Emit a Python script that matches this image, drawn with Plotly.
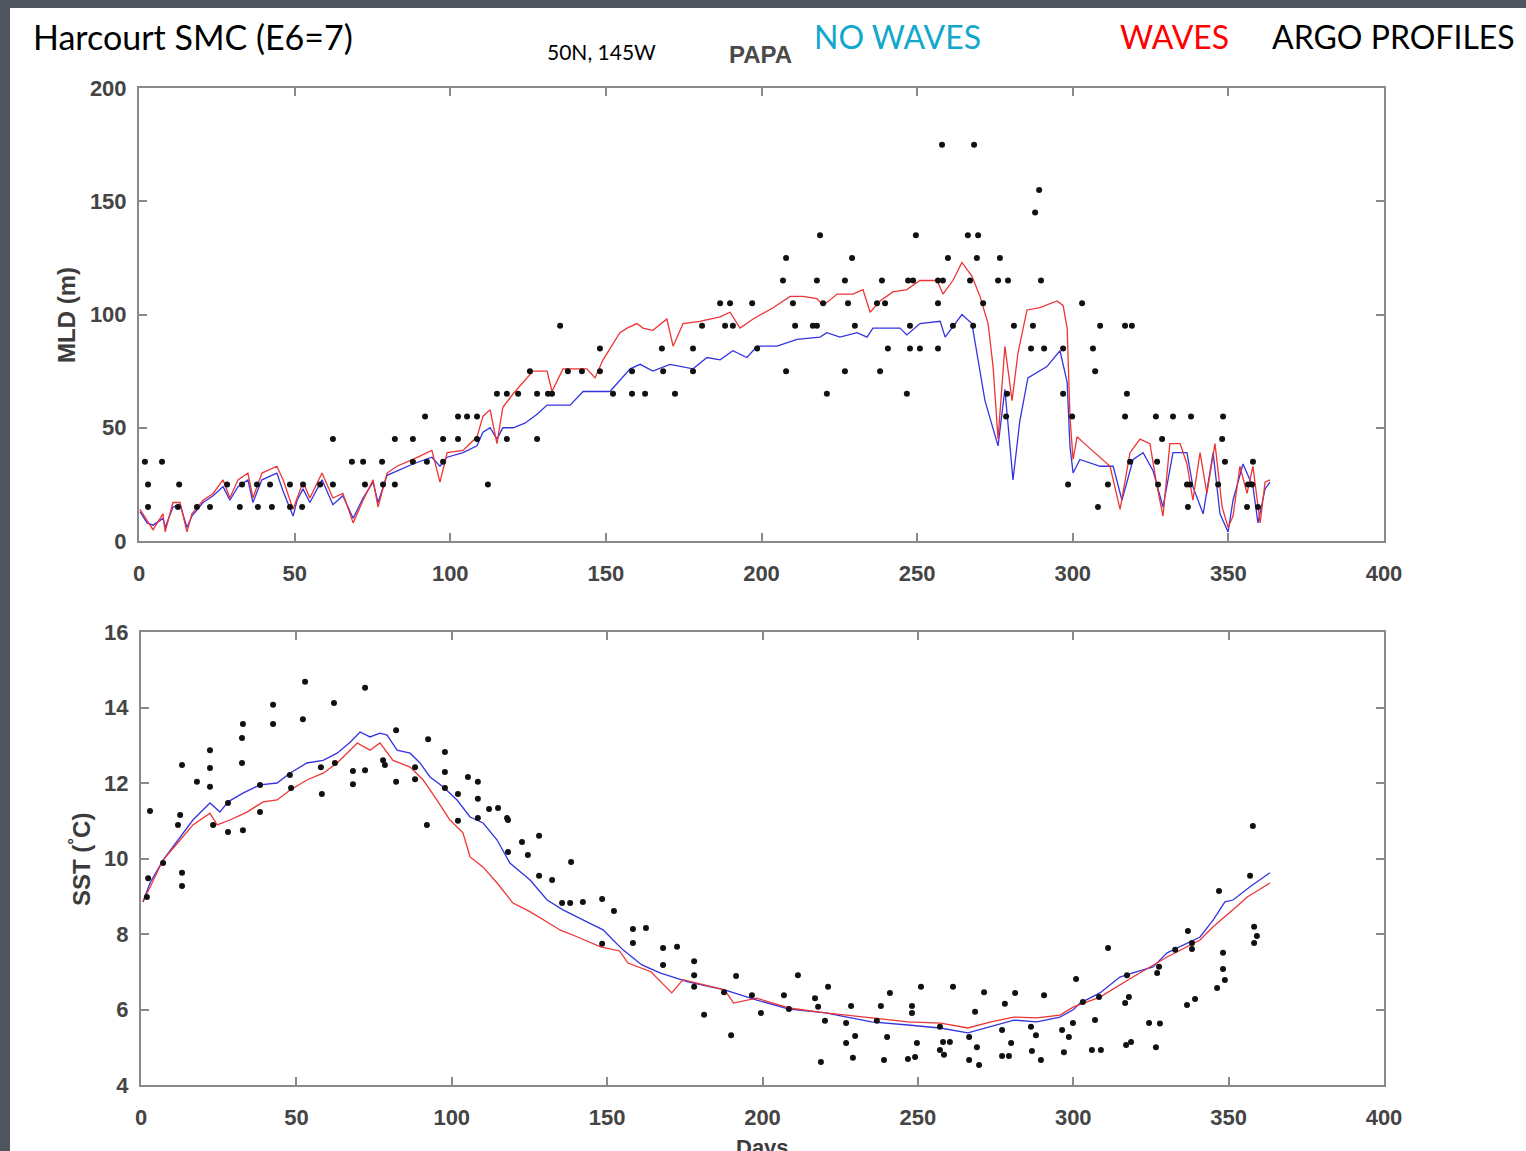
import plotly.graph_objects as go

W, H = 1526, 1151

# ---------------- MLD (top panel) ----------------
mld_red_day = [0.3, 2.6, 4.5, 7.7, 8.4, 10.9, 13.2, 15.4, 17, 20.6, 23.8, 27, 29.2, 31.8, 35, 36.6, 39.5, 44.3, 46.3,
               49.5, 50.8, 52.7, 54.9, 58.8, 62.3, 65.5, 68.8, 72, 75.2, 76.8, 79.7, 82.9, 88, 94.1, 96.7, 99, 104.1,
               108.6, 110.5, 112.8, 115, 116.9, 120.2, 126.6, 131.1, 132.7, 136.2, 143.9, 146.5, 149.1, 154.5, 156.8,
               160, 161.9, 165.1, 169.6, 171.6, 174.8, 180.2, 186.7, 189.9, 193.1, 197.3, 203.7, 209.2, 213.3, 217.8,
               219.8, 224.3, 229.4, 232.6, 234.9, 238.1, 242.2, 246.7, 250.9, 256.4, 258.3, 261.5, 264.4, 267.6, 270.2,
               272.8, 274.4, 276, 278.2, 280.5, 282.4, 285.3, 289.5, 294.9, 296.9, 298.2, 299.1, 300.1, 301.4, 304.6,
               308.8, 312, 315.2, 318.4, 321.6, 324.8, 327.1, 329, 331.2, 334.5, 336.7, 338.6, 340.9, 343.1, 345.7,
               348, 349.9, 351.5, 353.7, 356, 357.9, 360.2, 361.8, 363.4]
mld_red = [14, 9, 5, 12, 4, 17, 17, 4, 12, 18, 21, 27, 19, 27, 30, 19, 30, 33, 27,
           14, 19, 26, 19, 30, 19, 21, 8, 18, 27, 15, 30, 33, 36, 40, 26, 39, 40,
           46, 55, 58, 43, 59, 65, 75, 75, 66, 76, 76, 72, 80, 92, 94,
           96, 94, 93, 98, 86, 96, 97, 99, 101, 94, 98, 103, 108, 108, 107,
           104, 109, 109, 111, 101, 106, 110, 111, 115, 115, 109, 115, 123, 117, 108,
           96, 77, 45, 86, 62, 83, 102, 103, 106, 104, 94, 55, 36, 46, 42,
           37, 33, 14, 39, 45, 43, 24, 11, 43, 43, 34, 18, 39, 21, 43,
           15, 6, 11, 33, 21, 33, 8, 26, 27]

mld_blue_day = [0.3, 2.6, 4.5, 7.7, 8.4, 10.9, 13.2, 15.4, 17, 20.6, 23.8, 27, 29.2, 31.8, 35, 36.6, 39.5, 44.3, 46.3,
                49.5, 50.8, 52.7, 54.9, 58.8, 62.3, 65.5, 68.8, 72, 75.2, 76.8, 79.7, 82.9, 88, 94.1, 96.7, 99, 104.1,
                108.6, 110.5, 112.8, 115, 116.9, 120.2, 124, 127.9, 131.1, 138.5, 142.7, 151.3, 157.8, 161, 165.1,
                170.6, 178, 182.5, 186.7, 190.8, 195.3, 198.6, 205, 211.4, 218.8, 221, 225.2, 230.7, 233.9, 235.8,
                244.5, 246.7, 250.9, 257.4, 259, 264.4, 267.6, 270.2, 271.8, 276, 278.2, 280.8, 283, 285.6, 291.7,
                295.9, 298.2, 299.1, 300.1, 302.3, 308.8, 313, 315.8, 319.4, 322.6, 325.8, 329, 332.2, 336.7, 338.6,
                341.9, 345.1, 347.3, 349.9, 351.5, 354.7, 357.9, 359.5, 361.8, 363.4]
mld_blue = [13, 8, 7, 10, 6, 15, 16, 6, 11, 17, 20, 24, 18, 24, 27, 17, 27, 30, 22,
            11, 18, 23, 17, 27, 16, 20, 10, 19, 26, 17, 29, 31, 34, 37, 33, 37, 39,
            42, 48, 50, 45, 50, 50, 52, 56, 60, 60, 66, 66, 76, 78, 75,
            78, 76, 81, 80, 84, 81, 86, 86, 89, 90, 92, 90, 92, 90, 94,
            94, 91, 96, 97, 90, 100, 96, 74, 62, 42, 67, 27, 53, 72, 77,
            84, 70, 42, 30, 36, 33, 33, 18, 36, 39, 31, 15, 39, 39, 24,
            12, 39, 12, 4, 18, 34, 24, 8, 23, 26]

argo_mld_day = [1.9, 7.4, 2.9, 12.9, 2.9, 12.5, 18.6, 22.8, 28.3, 33.1, 37.9, 42.1, 48.5, 52.7, 58.2, 62.3,
                32.4, 38.2, 42.7, 48.5, 52.4, 62.3, 68.4, 72, 78.1, 72.6, 78.4, 82.2, 82.2, 88, 88, 92.5, 97.7,
                91.9, 97.7, 102.5, 102.5, 105.4, 108.6, 108.6, 112.1, 115, 118.2, 121.8, 127.9, 131.4, 118.2,
                127.9, 125.6, 135.3, 148.1, 137.8, 142.3, 148.1, 132.7, 152.3, 158.4, 162.6, 172.2, 158.4, 168.4,
                178, 168, 178, 180.9, 188.3, 190.8, 186.7, 189.9, 197, 198.6, 206.9, 217.8, 226.8, 238.7, 247.1,
                248.7, 256.7, 207.9, 229.1, 218.8, 249.6, 210.1, 219.8, 227.8, 237.1, 239.7, 256.7, 210.8, 216.5,
                217.8, 230, 247.7, 240.6, 247.7, 250.9, 256.7, 207.9, 226.8, 238.1, 221, 246.7,
                258, 268.3, 289.2, 287.9, 266.3, 269.6, 259.9, 269.2, 276.6, 258.3, 267, 276, 279.2, 289.8,
                271.2, 303, 261.5, 268, 281.1, 287.2, 308.8, 316.8, 319, 286.6, 290.8, 296.9, 306.5, 307.2,
                296.9, 317.4, 278.9, 278.6, 299.8, 316.8, 326.7, 332.2, 338, 348.3, 328.7, 348, 318.4, 327.1,
                348.9, 357.9, 298.5, 311.3, 327.4, 336.7, 337.7, 346.7, 356.3, 357.6, 308.1, 337, 359.5, 356]
argo_mld = [35, 35, 25, 25, 15, 15, 15, 15, 25, 25, 25, 25, 25, 25, 25, 25,
            15, 15, 15, 15, 15, 45, 35, 35, 35, 25, 25, 25, 45, 45, 35, 35, 35,
            55, 45, 45, 55, 55, 55, 45, 25, 65, 65, 65, 65, 65, 45,
            45, 75, 95, 85, 75, 75, 75, 65, 65, 65, 65, 65, 75, 75,
            75, 85, 85, 95, 95, 95, 105, 105, 105, 85, 115, 115, 115, 115, 115,
            115, 115, 125, 125, 135, 135, 105, 105, 105, 105, 105, 105, 95, 95,
            95, 95, 95, 85, 85, 85, 85, 75, 75, 75, 65, 65,
            175, 175, 155, 145, 135, 135, 125, 125, 125, 115, 115, 115, 115, 115,
            105, 105, 95, 95, 95, 95, 95, 95, 95, 85, 85, 85, 85, 75,
            65, 65, 65, 55, 55, 55, 55, 55, 55, 55, 45, 45, 35, 35,
            35, 35, 25, 25, 25, 25, 25, 25, 25, 25, 15, 15, 15, 15]

# ---------------- SST (bottom panel) ----------------
sst_blue_day = [0.6, 2.9, 7.1, 12.6, 16.7, 22.2, 25.4, 28, 32.8, 38.3, 43.8, 47.9, 53.4, 58.6, 63.1, 67.3, 70.5,
                73.7, 76.9, 79.2, 82.4, 86.6, 89.8, 93, 97.2, 101.7, 105.9, 110.1, 114.6, 118.7, 125.2, 130.7,
                135.8, 143.5, 148.7, 151.9, 155.1, 161.2, 167, 176, 187.8, 198.2, 208.5, 220.3, 235.1, 246.8,
                257.1, 266.1, 273.5, 280.9, 288.3, 295.7, 300.1, 302.2, 308.6, 315, 319.2, 325.7, 330.2, 336.6,
                340.8, 345, 348.8, 351.4, 356.9, 363.3]
sst_blue = [8.85, 9.35, 9.96, 10.57, 11.02, 11.47, 11.23, 11.5, 11.73, 11.95, 12.0, 12.26, 12.53, 12.6, 12.79, 13.08,
            13.35, 13.22, 13.32, 13.27, 12.87, 12.79, 12.53, 12.16, 11.9, 11.55, 11.1, 10.94, 10.49, 9.88, 9.43,
            8.9, 8.64, 8.32, 8.11, 7.84, 7.58, 7.18, 6.97, 6.73, 6.52, 6.25, 6.01, 5.91, 5.67, 5.59,
            5.51, 5.38, 5.54, 5.72, 5.67, 5.8, 6.0, 6.17, 6.44, 6.86, 6.97, 7.13, 7.5, 7.76,
            7.92, 8.37, 8.85, 8.9, 9.25, 9.62]

sst_red_day = [0.6, 7.1, 12.6, 16.7, 22.2, 24.5, 28.6, 34.1, 39.3, 43.8, 47.9, 53.4, 58.6, 63.1, 69.6, 73.7, 76.9,
               81.1, 86.6, 90.8, 95.2, 99.4, 103.6, 105.9, 110.1, 114.6, 119.7, 125, 130, 135, 140.5, 147.9, 154,
               156.7, 164.1, 170.8, 174.4, 187.8, 190.7, 198.1, 208.5, 220.3, 235.1, 246.9, 257.3, 266.1, 273.5,
               280.9, 288.3, 295.7, 300.1, 308.6, 319.2, 330.2, 340.8, 345, 351.4, 356, 363.3]
sst_red = [8.85, 9.96, 10.49, 10.89, 11.2, 10.89, 11.02, 11.23, 11.5, 11.55, 11.81, 12.08, 12.26, 12.53, 13.06, 12.87,
           13.06, 12.6, 12.42, 12.08, 11.55, 11.02, 10.68, 10.04, 9.77, 9.35, 8.82, 8.6, 8.35, 8.1, 7.92, 7.66, 7.55,
           7.23, 7.0, 6.44, 6.79, 6.52, 6.17, 6.3, 6.04, 5.91, 5.78, 5.67, 5.64, 5.51, 5.67,
           5.8, 5.78, 5.85, 6.07, 6.33, 6.86, 7.39, 7.84, 8.19, 8.64, 8.98, 9.35]

argo_sst_day = [2.9, 2.3, 1.9, 7.1, 12.6, 11.9, 13.2, 13.2, 13.2, 18, 22.2, 22.2, 22.2, 23.2, 28, 28, 32.5, 32.8,
                32.5, 32.8, 38.3, 38.3, 42.5, 42.5, 47.9, 48.3, 52.8, 52.1, 57.9, 58.2, 62.1, 62.4, 68.2, 68.2,
                72.1, 72.1, 77.9, 78.5, 82.1, 82.1, 88.2, 88.2, 92, 92.4, 97.8, 97.8, 97.8, 102, 102, 105.2, 108.4,
                108.4, 108.4, 112, 114.9, 117.8, 118.1, 118.1, 122.6, 124.5,
                128.1, 128.1, 132.3, 138.4, 135.5, 138.1, 142.2, 148.4, 152.2, 158.3, 162.5, 158.3, 148.4, 168,
                172.5,
                168, 178, 178, 178, 181.2, 191.5, 187.6, 189.9, 196.6, 199.5, 206.9, 208.5, 211.4, 216.9, 217.9,
                220.1, 221.1, 218.8, 226.9, 226.9, 228.5, 229.1, 229.8, 236.8, 238.1, 239.1, 240.1, 241, 246.8,
                248.1, 248.1, 249.1, 249.7, 251, 257.1, 257.1, 258.1, 258.4, 260.3, 261.3, 266.5, 266.5, 268.4,
                269, 269.7, 271.3, 277.1, 278, 277.1, 279.3, 280, 281.3, 286.4, 286.7, 288, 289.6, 290.6, 296.4,
                297, 298.6, 299.9,
                300.9, 303.1, 308.3, 307, 311.2, 317.3, 317.9, 316.7, 306, 308.9, 317, 318.6, 324.4, 326.6,
                327.9, 327.6, 327, 332.8, 336.9, 338.2, 338.2, 336.6, 339.2, 346.3, 348.8, 348.2, 348.2, 346.9,
                356.9, 357.8, 358.2, 359.1, 358.2]
argo_sst = [11.26, 9.48, 8.98, 9.88, 11.15, 10.89, 12.48, 9.62, 9.27, 12.03, 12.87, 12.4, 11.9, 10.89, 11.47, 10.7,
            13.19, 13.56, 12.53, 10.75, 11.95, 11.23, 14.07, 13.56, 12.21, 11.87, 14.68, 13.69, 12.42, 11.71,
            14.12, 12.53, 12.32, 11.97, 14.52, 12.34, 12.6, 12.48, 13.4, 12.03, 12.42, 12.1, 10.89, 13.16, 12.82,
            12.29, 11.87, 11.71, 11.0, 12.16, 12.03, 11.58, 11.07, 11.31, 11.34, 11.07, 11.02, 10.17, 10.44, 10.09,
            10.6, 9.54, 9.43, 9.91, 8.82, 8.82, 8.85, 8.93, 8.61, 8.13, 8.16, 7.76, 7.74, 7.63, 7.66,
            7.18, 7.28, 6.91, 6.6, 5.86, 6.89, 6.46, 5.32, 6.38, 5.91, 6.38, 6.01, 6.91, 6.3, 6.07,
            5.7, 6.6, 4.61, 5.64, 5.11, 6.09, 4.72, 5.3, 5.7, 6.09, 4.66, 5.27, 6.44, 4.69,
            5.91, 6.09, 4.74, 5.11, 6.6, 5.54, 4.93, 5.14, 4.8, 5.14, 6.6, 5.27, 4.66, 5.94,
            5.0, 4.53, 6.46, 5.46, 6.15, 4.77, 4.77, 5.11, 6.44, 5.54, 4.9, 5.32, 4.66, 6.38, 5.46,
            4.87, 5.27, 5.64,
            6.81, 6.2, 6.33, 5.72, 7.63, 6.91, 6.33, 6.17, 4.93, 4.93, 5.06, 5.14, 5.64, 5.0,
            5.63, 7.13, 6.97, 7.58, 8.08, 7.76, 7.6, 6.12, 6.28, 6.57, 6.78, 7.07, 7.5, 9.14,
            9.54, 10.86, 8.19, 7.95, 7.76]

x_ticks = [0, 50, 100, 150, 200, 250, 300, 350, 400]
mld_ticks = [0, 50, 100, 150, 200]
sst_ticks = [4, 6, 8, 10, 12, 14, 16]


def px(x):
    return x / W


def py(y):
    return 1 - y / H


RED = "rgb(238,52,52)"
BLUE = "rgb(52,52,225)"
MARK = dict(color="#111111", size=6, symbol="circle")

fig = go.Figure()
# top
fig.add_trace(go.Scatter(x=mld_blue_day, y=mld_blue, mode="lines", line=dict(color=BLUE, width=1.3),
                         xaxis="x", yaxis="y", showlegend=False))
fig.add_trace(go.Scatter(x=mld_red_day, y=mld_red, mode="lines", line=dict(color=RED, width=1.3),
                         xaxis="x", yaxis="y", showlegend=False))
fig.add_trace(go.Scatter(x=argo_mld_day, y=argo_mld, mode="markers", marker=MARK,
                         xaxis="x", yaxis="y", showlegend=False))
# bottom
fig.add_trace(go.Scatter(x=sst_blue_day, y=sst_blue, mode="lines", line=dict(color=BLUE, width=1.3),
                         xaxis="x2", yaxis="y2", showlegend=False))
fig.add_trace(go.Scatter(x=sst_red_day, y=sst_red, mode="lines", line=dict(color=RED, width=1.3),
                         xaxis="x2", yaxis="y2", showlegend=False))
fig.add_trace(go.Scatter(x=argo_sst_day, y=argo_sst, mode="markers", marker=MARK,
                         xaxis="x2", yaxis="y2", showlegend=False))

tickfont = dict(family="Liberation Sans", size=22, color="#444444", weight="bold")
ax_common = dict(showline=True, linecolor="#8a8a8a", linewidth=2, mirror="ticks", ticks="inside",
                 ticklen=8, tickcolor="#8a8a8a", tickwidth=1.5, showgrid=False, zeroline=False,
                 tickfont=tickfont, automargin=False)

fig.update_layout(
    template="none",
    width=W, height=H,
    autosize=False,
    margin=dict(l=0, r=0, t=0, b=0, pad=0, autoexpand=False),
    paper_bgcolor="#50545f",
    plot_bgcolor="white",
    showlegend=False,
    xaxis=dict(domain=[px(139), px(1384)], range=[0, 400], tickvals=x_ticks, anchor="y",
               ticklabelstandoff=12, **ax_common),
    yaxis=dict(domain=[py(541), py(88)], range=[0, 200], tickvals=mld_ticks, anchor="x",
               ticklabelstandoff=6, **ax_common),
    xaxis2=dict(domain=[px(141), px(1384)], range=[0, 400], tickvals=x_ticks, anchor="y2",
                ticklabelstandoff=12, **ax_common),
    yaxis2=dict(domain=[py(1085), py(632)], range=[4, 16], tickvals=sst_ticks, anchor="x2",
                ticklabelstandoff=6, **ax_common),
    shapes=[dict(type="rect", xref="paper", yref="paper", x0=px(10), x1=1.0, y0=0.0, y1=py(8),
                 fillcolor="white", line=dict(width=0), layer="below")],
)

cal = "Lato"
ann = [
    dict(text="Harcourt SMC (E6=7)", x=px(31), y=py(37), xanchor="left", yanchor="middle",
         font=dict(family=cal, size=34, color="black")),
    dict(text="50N, 145W", x=px(601), y=py(51), xanchor="center", yanchor="middle",
         font=dict(family=cal, size=21, color="black")),
    dict(text="PAPA", x=px(760), y=py(55), xanchor="center", yanchor="middle",
         font=dict(family="Liberation Sans", size=24, color="#4a4a4a", weight="bold")),
    dict(text="NO WAVES", x=px(812), y=py(37), xanchor="left", yanchor="middle",
         font=dict(family=cal, size=32, color="#12a7cc")),
    dict(text="WAVES", x=px(1118), y=py(37), xanchor="left", yanchor="middle",
         font=dict(family=cal, size=32, color="#ff0000")),
    dict(text="ARGO PROFILES", x=px(1270), y=py(37), xanchor="left", yanchor="middle",
         font=dict(family=cal, size=32, color="black")),
    dict(text="MLD (m)", x=px(66), y=py(315), xanchor="center", yanchor="middle", textangle=-90,
         font=dict(family="Liberation Sans", size=24, color="#3c3c3c", weight="bold")),
    dict(text="SST (<sup>°</sup>C)", x=px(80), y=py(860), xanchor="center", yanchor="middle", textangle=-90,
         font=dict(family="Liberation Sans", size=24, color="#3c3c3c", weight="bold")),
    dict(text="Days", x=px(762), y=py(1133), xanchor="center", yanchor="top",
         font=dict(family="Liberation Sans", size=22, color="#3c3c3c", weight="bold")),
]
for a in ann:
    a.update(xref="paper", yref="paper", showarrow=False)
fig.update_layout(annotations=ann)

fig.write_html(
    "out.html",
    config={"displayModeBar": False},
    post_script="document.body.style.margin='0';document.body.style.background='#50545f';"
                "document.documentElement.style.overflow='hidden';",
)
